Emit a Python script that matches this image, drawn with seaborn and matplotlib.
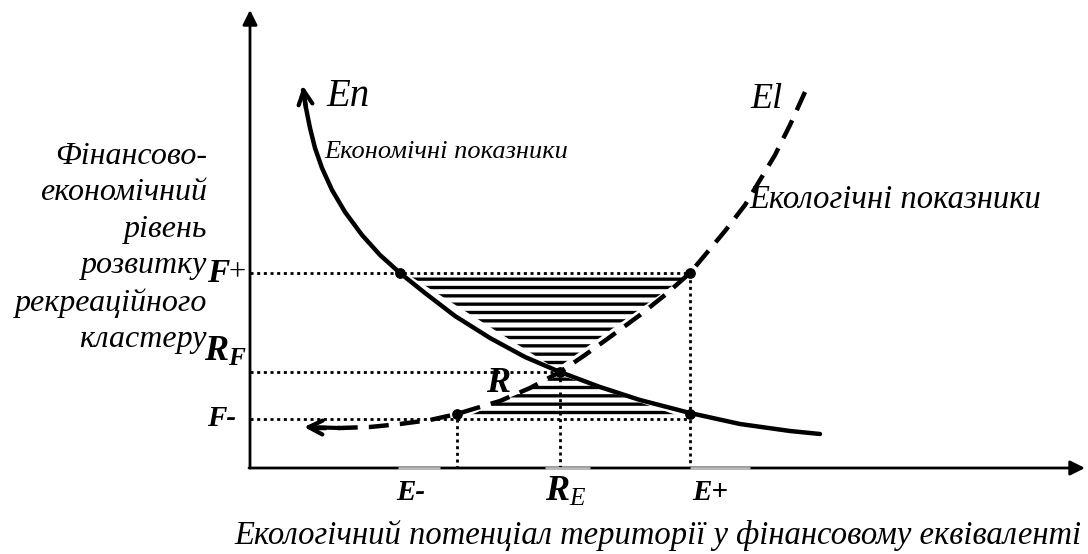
import matplotlib
matplotlib.use("Agg")
import matplotlib.pyplot as plt
import seaborn as sns
import pandas as pd
from matplotlib.patches import Polygon

sns.set_theme(style="white")
plt.rcParams["font.family"] = ["Liberation Serif", "DejaVu Serif"]
plt.rcParams["text.color"] = "black"
plt.rcParams["mathtext.fontset"] = "custom"
plt.rcParams["mathtext.rm"] = "Liberation Serif"
plt.rcParams["mathtext.it"] = "Liberation Serif:italic"
plt.rcParams["mathtext.bf"] = "Liberation Serif:italic:bold"
plt.rcParams["hatch.linewidth"] = 2.4
plt.rcParams["hatch.color"] = "black"

# ---- data (diagram units: pixel-like coordinates, y downward) ----
en_x = [303, 306, 310, 315, 322, 332, 345, 362, 380, 400, 425, 455, 490, 525, 560, 600, 640, 690, 740, 790, 820]
en_y = [90, 108, 128, 148, 168, 190, 212, 235, 255, 273, 293, 316, 338, 357, 372, 387, 400, 413, 424, 431, 434]
el_x = [805, 790, 775, 760, 745, 725, 705, 690, 665, 640, 610, 585, 560, 530, 500, 470, 457, 430, 400, 370, 340, 312]
el_y = [92, 125, 155, 180, 205, 231, 255, 273, 295, 315, 337, 355, 372, 388, 401, 410, 414, 420, 424, 427, 428, 428]

axis_origin = (250, 468)
axis_x_end = 1085
axis_y_end = 10

f_levels = [273, 372, 419]          # F+, R_F, F-
e_levels = [457, 560, 690]          # E-, R_E, E+

dot_x = [400, 690, 560, 457, 690]
dot_y = [273, 273, 372, 414, 414]

upper_tri_x = [410, 686, 556]
upper_tri_y = [276, 276, 369]
lower_tri_x = [560, 688, 462]
lower_tri_y = [375, 419, 419]

ylabel_lines = ["Фінансово-", "економічний", "рівень", "розвитку", "рекреаційного", "кластеру"]
ylabel_y = [157, 193, 230, 266, 303, 339]
xlabel = "Екологічний потенціал території у фінансовому еквіваленті"

fig = plt.figure(figsize=(10.88, 5.54), dpi=100)
ax = fig.add_axes([0, 0, 1, 1])

ox, oy = axis_origin

# hatched areas
for px, py in [(upper_tri_x, upper_tri_y), (lower_tri_x, lower_tri_y)]:
    ax.add_patch(Polygon(list(zip(px, py)), closed=True, facecolor="white",
                         edgecolor="black", linewidth=0, hatch="--", zorder=2))

# dotted guide lines
dot_style = dict(color="black", lw=2, linestyle=(0, (1.1, 1.3)), zorder=2)
ax.plot([ox, e_levels[2]], [f_levels[0]] * 2, **dot_style)
ax.plot([ox, e_levels[1]], [f_levels[1]] * 2, **dot_style)
ax.plot([ox, e_levels[2]], [f_levels[2]] * 2, **dot_style)
ax.plot([e_levels[0]] * 2, [f_levels[2], oy], **dot_style)
ax.plot([e_levels[1]] * 2, [f_levels[1], oy], **dot_style)
ax.plot([e_levels[2]] * 2, [f_levels[0], oy], **dot_style)

# curves
en_df = pd.DataFrame({"x": en_x, "y": en_y})
el_df = pd.DataFrame({"x": el_x, "y": el_y})
sns.lineplot(data=en_df, x="x", y="y", sort=False, color="black", lw=3.2, ax=ax, zorder=4)
sns.lineplot(data=el_df, x="x", y="y", sort=False, color="black", lw=3.2, ax=ax, zorder=4,
             linestyle=(0, (4.5, 2.5)))
ax.set_xlim(0, 1088)
ax.set_ylim(554, 0)
ax.axis("off")

# axes with arrows
ax.annotate("", xy=(ox, axis_y_end), xytext=(ox, oy),
            arrowprops=dict(arrowstyle="-|>", lw=2, color="black", mutation_scale=22, shrinkA=0, shrinkB=0))
ax.annotate("", xy=(axis_x_end, oy), xytext=(ox - 1, oy),
            arrowprops=dict(arrowstyle="-|>", lw=2, color="black", mutation_scale=22, shrinkA=0, shrinkB=0))
# light gaps on x axis below labels
for gx0, gx1 in [(398, 440), (545, 590), (690, 750)]:
    ax.plot([gx0, gx1], [oy, oy], color="#bbbbbb", lw=2, solid_capstyle="butt", zorder=3)

# arrow heads of curves
ax.annotate("", xy=(en_x[0], en_y[0] - 4), xytext=(en_x[1], en_y[1]),
            arrowprops=dict(arrowstyle="->", lw=3, color="black", mutation_scale=25, shrinkA=0, shrinkB=0))
ax.annotate("", xy=(el_x[-1] - 8, el_y[-1] - 1), xytext=(el_x[-2], el_y[-2]),
            arrowprops=dict(arrowstyle="->", lw=3, color="black", mutation_scale=25, shrinkA=0, shrinkB=0))

# points
ax.scatter(dot_x, dot_y, s=45, color="black", zorder=5)

# texts
ax.text(326, 97, "En", fontsize=28, style="italic", va="center", ha="left")
ax.text(750, 100, "El", fontsize=26, style="italic", va="center", ha="left")
ax.text(324, 152, "Економічні показники", fontsize=19, style="italic", va="center", ha="left")
ax.text(749, 200, "Екологічні показники", fontsize=23.5, style="italic", va="center", ha="left")
for line, yy in zip(ylabel_lines, ylabel_y):
    ax.text(207, yy, line, fontsize=23, style="italic", ha="right", va="center")

ax.text(207, f_levels[0] + 1, "F", fontsize=24, style="italic", weight="bold", ha="left", va="center")
ax.text(228, f_levels[0], "+", fontsize=22, ha="left", va="center")
ax.text(204, 352, r"$\mathbf{R}_{\mathbf{F}}$", fontsize=26, ha="left", va="center")
ax.text(207, f_levels[2] - 1, "F-", fontsize=21, style="italic", weight="bold", ha="left", va="center")
ax.text(486, 383, "R", fontsize=26, style="italic", weight="bold", ha="left", va="center")

ax.text(411, 493, "E-", fontsize=21, style="italic", weight="bold", ha="center", va="center")
ax.text(566, 492, r"$\mathbf{R}_{\mathit{E}}$", fontsize=26, ha="center", va="center")
ax.text(710, 493, "E+", fontsize=21, style="italic", weight="bold", ha="center", va="center")

ax.text(658, 535, xlabel, fontsize=23.5, style="italic", ha="center", va="center")

fig.savefig("out.png", dpi=100, facecolor="white")
